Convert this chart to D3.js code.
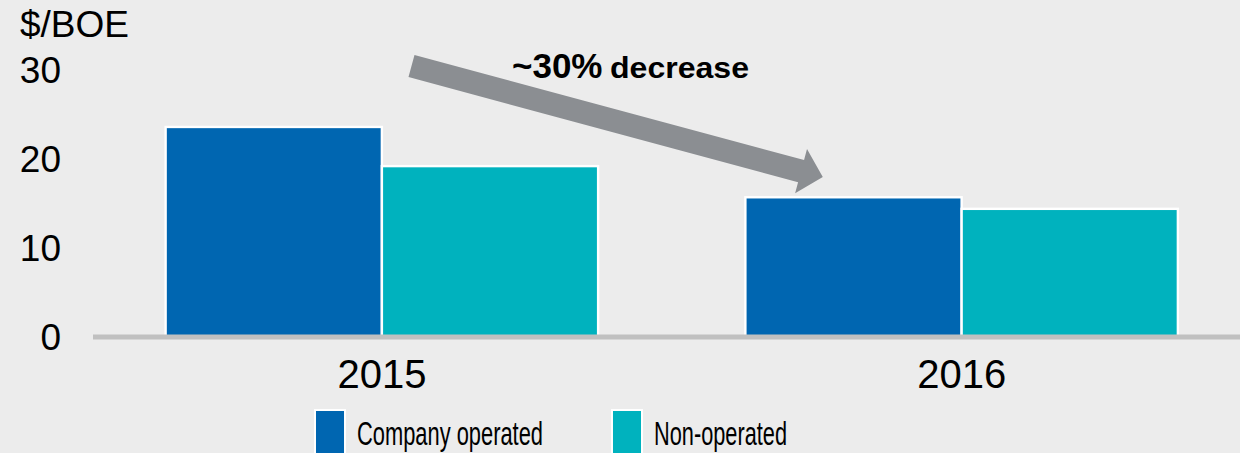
<!DOCTYPE html>
<html>
<head>
<meta charset="utf-8">
<script src="https://cdn.jsdelivr.net/npm/d3@7"></script>
<style>
  html, body { margin: 0; padding: 0; background: #ececec; }
  svg { display: block; font-family: "Liberation Sans", Arial, sans-serif; }
</style>
</head>
<body>
<svg id="chart" width="1240" height="453"></svg>
<script>
// Cost per barrel of oil equivalent, by operating type
const years = ["2015", "2016"];
const series = ["Company operated", "Non-operated"];
const companyOperated = [23.6, 15.7];
const nonOperated = [19.2, 14.4];
const yTicks = [0, 10, 20, 30];
const colors = ["#0066b1", "#00b2be"];
const unitLabel = "$/BOE";
const changeLead = "~30%";
const changeTail = "decrease";

const W = 1240, H = 453;
const svg = d3.select("#chart");
svg.append("rect").attr("width", W).attr("height", H).attr("fill", "#ececec");

const rows = years.map((yr, i) => ({ year: yr, values: [companyOperated[i], nonOperated[i]] }));

const y = d3.scaleLinear().domain([0, 30]).range([337, 70]);
const x0 = d3.scaleBand().domain(years).range([92, 1251.5]).paddingInner(0.254).paddingOuter(0.127);
const x1 = d3.scaleBand().domain(series).range([0, x0.bandwidth()]).padding(0);

// Bars
const groups = svg.append("g").selectAll("g").data(rows).join("g")
  .attr("transform", d => `translate(${x0(d.year)},0)`);
groups.selectAll("rect")
  .data(d => d.values.map((v, i) => ({ key: series[i], value: v, i })))
  .join("rect")
  .attr("x", d => x1(d.key))
  .attr("width", x1.bandwidth())
  .attr("y", d => y(d.value))
  .attr("height", d => y(0) - y(d.value))
  .attr("fill", d => colors[d.i])
  .attr("stroke", "#ffffff")
  .attr("stroke-width", 2.4);

// Baseline
svg.append("line")
  .attr("x1", 93).attr("x2", W)
  .attr("y1", y(0)).attr("y2", y(0))
  .attr("stroke", "#c0c0c0").attr("stroke-width", 5);

// Y axis labels
const yAxis = d3.axisLeft(y).tickValues(yTicks).tickSize(0).tickPadding(0);
const yg = svg.append("g").attr("transform", "translate(61,0)").call(yAxis);
yg.select(".domain").remove();
yg.selectAll("text")
  .attr("font-size", 37).attr("fill", "#000").attr("dy", "0.35em")
  .style("font-family", "'Liberation Sans', Arial, sans-serif");

svg.append("text").attr("x", 20).attr("y", 37)
  .attr("font-size", 37).attr("fill", "#000").text(unitLabel);

// Category labels
const xAxis = d3.axisBottom(x0).tickSize(0).tickPadding(0);
const xg = svg.append("g").attr("transform", "translate(0,0)").call(xAxis);
xg.select(".domain").remove();
xg.selectAll("text")
  .attr("y", 388).attr("dy", 0)
  .attr("font-size", 40).attr("fill", "#000")
  .style("font-family", "'Liberation Sans', Arial, sans-serif");

// Trend arrow
const arrow = svg.append("g").attr("transform", "translate(411.5,66) rotate(15.1)");
arrow.append("path")
  .attr("d", "M0,-11.5 L403.5,-11.5 L403.5,-22.8 L426,0 L403.5,22.8 L403.5,11.5 L0,11.5 Z")
  .attr("fill", "#8b8e92");

const note = svg.append("text").attr("y", 78).attr("font-weight", "bold").attr("fill", "#000");
note.append("tspan").attr("x", 512).attr("font-size", 35).text(changeLead);
note.append("tspan").attr("x", 610).attr("font-size", 30)
  .attr("textLength", 139).attr("lengthAdjust", "spacingAndGlyphs").text(changeTail);

// Legend
const legendX = [315, 612];
const legendTextW = [186, 133];
const lg = svg.append("g").selectAll("g").data(series).join("g")
  .attr("transform", (d, i) => `translate(${legendX[i]},410)`);
lg.append("rect")
  .attr("width", 30).attr("height", 60)
  .attr("fill", (d, i) => colors[i])
  .attr("stroke", "#ffffff").attr("stroke-width", 2);
lg.append("text")
  .attr("x", 42).attr("y", 35)
  .attr("font-size", 32.5).attr("fill", "#000")
  .attr("textLength", (d, i) => legendTextW[i])
  .attr("lengthAdjust", "spacingAndGlyphs")
  .text(d => d);
</script>
</body>
</html>
